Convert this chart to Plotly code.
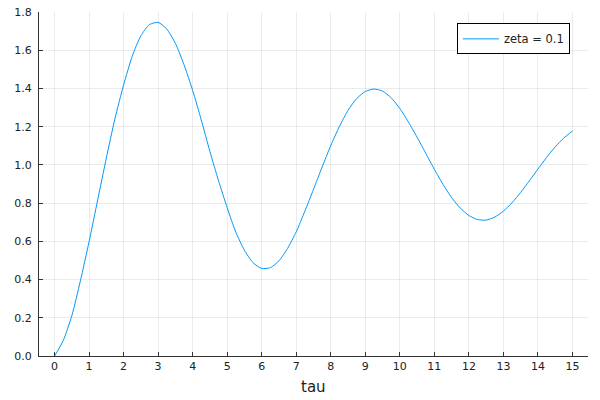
import plotly.graph_objects as go

tau = [0.0, 0.25, 0.5, 0.75, 1.0, 1.25, 1.5, 1.75, 2.0, 2.25, 2.5, 2.75, 3.0,
       3.25, 3.5, 3.75, 4.0, 4.25, 4.5, 4.75, 5.0, 5.25, 5.5, 5.75, 6.0, 6.25,
       6.5, 6.75, 7.0, 7.25, 7.5, 7.75, 8.0, 8.25, 8.5, 8.75, 9.0, 9.25, 9.5,
       9.75, 10.0, 10.25, 10.5, 10.75, 11.0, 11.25, 11.5, 11.75, 12.0, 12.25,
       12.5, 12.75, 13.0, 13.25, 13.5, 13.75, 14.0, 14.25, 14.5, 14.75, 15.0]
response = [0.0, 0.08, 0.21, 0.394, 0.598, 0.817, 1.036, 1.242, 1.418, 1.569,
            1.676, 1.734, 1.746, 1.711, 1.636, 1.524, 1.390, 1.235, 1.070, 0.917,
            0.776, 0.648, 0.553, 0.488, 0.458, 0.462, 0.498, 0.563, 0.650, 0.758,
            0.872, 0.989, 1.101, 1.201, 1.285, 1.347, 1.384, 1.397, 1.386, 1.351,
            1.295, 1.224, 1.145, 1.061, 0.977, 0.898, 0.829, 0.774, 0.735, 0.714,
            0.711, 0.727, 0.758, 0.802, 0.856, 0.916, 0.978, 1.039, 1.094, 1.141,
            1.177]
series_name = "zeta = 0.1"
x_title = "tau"
x_ticks = list(range(0, 16))
y_ticks = [0.0, 0.2, 0.4, 0.6, 0.8, 1.0, 1.2, 1.4, 1.6, 1.8]

fig = go.Figure()
fig.add_trace(go.Scatter(
    x=tau, y=response, mode="lines", name=series_name,
    line=dict(color="#009AFA", width=1, shape="spline", smoothing=0.6),
))

axis_common = dict(
    showline=True, linecolor="#333333", linewidth=1,
    ticks="inside", ticklen=4, tickcolor="#333333",
    showgrid=True, gridcolor="rgba(0,0,0,0.08)", gridwidth=1,
    zeroline=False, mirror=False, automargin=False,
    ticklabeloverflow="allow",
    tickfont=dict(family="DejaVu Sans", size=11, color="#222222"),
)

fig.update_layout(
    width=600, height=400,
    margin=dict(l=39, r=12, t=12, b=44),
    paper_bgcolor="white", plot_bgcolor="white",
    font=dict(family="DejaVu Sans", color="#222222"),
    showlegend=True,
    legend=dict(
        x=0.967, y=0.967, xanchor="right", yanchor="top",
        bordercolor="#000000", borderwidth=1, bgcolor="white",
        font=dict(family="DejaVu Sans", size=11.5, color="#222222"),
        itemwidth=36,
    ),
    xaxis=dict(
        range=[-0.45, 15.45], tickmode="array", tickvals=x_ticks,
        ticktext=[str(v) for v in x_ticks],
        **axis_common,
    ),
    yaxis=dict(
        range=[0, 1.8], tickmode="array", tickvals=y_ticks,
        ticktext=[f"{v:.1f}" for v in y_ticks],
        ticklabelstandoff=4,
        **axis_common,
    ),
    annotations=[dict(
        text=x_title, xref="paper", yref="paper", x=0.5, y=0,
        xanchor="center", yanchor="middle", yshift=-31, showarrow=False,
        font=dict(family="DejaVu Sans", size=15, color="#222222"),
    )],
)

fig.write_html("out.html", config={"displayModeBar": False},
               post_script="document.body.style.margin='0';")
